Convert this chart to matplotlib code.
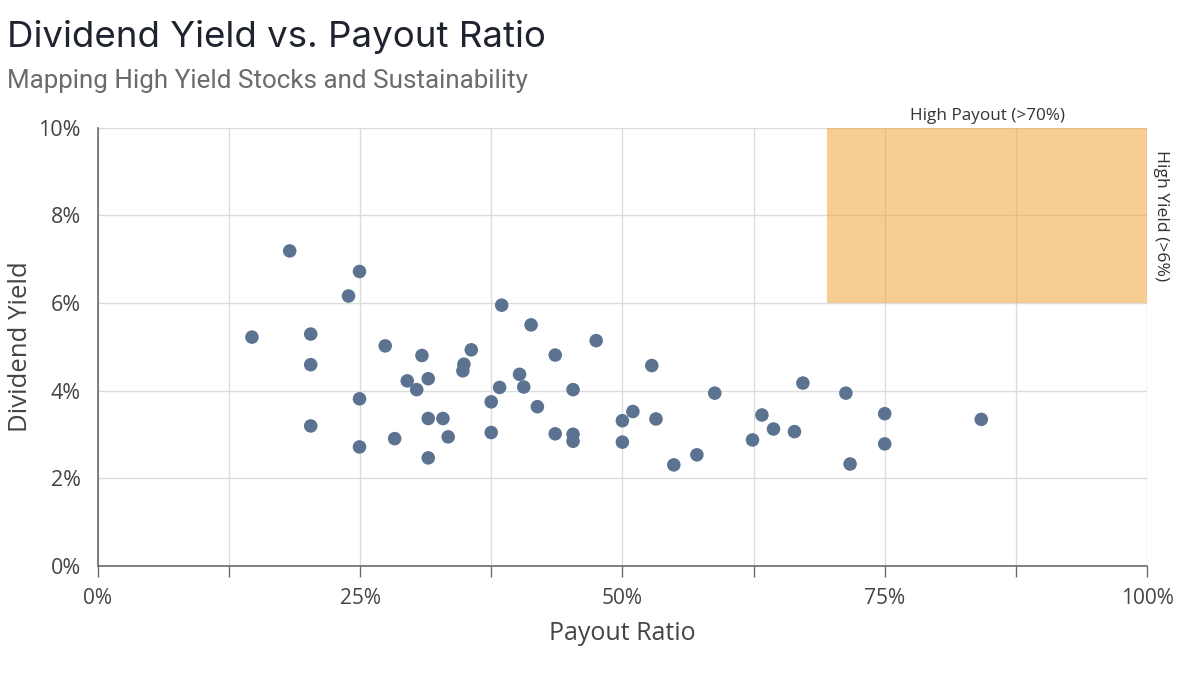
import numpy as np
import matplotlib.pyplot as plt
from matplotlib.ticker import FixedLocator, FuncFormatter
from matplotlib.patches import Rectangle

# Dados (payout %, dividend yield %)
payout = [14.7, 18.3, 20.3, 20.3, 20.3, 23.9, 24.95, 24.95, 24.95, 27.4,
          28.3, 29.5, 30.4, 30.9, 31.5, 31.5, 31.5, 32.9, 33.4, 34.9,
          34.8, 35.6, 37.5, 37.5, 38.5, 38.3, 40.2, 40.6, 41.3, 41.9,
          43.6, 43.6, 45.3, 45.3, 45.3, 47.5, 50.0, 50.0, 51.0, 52.8,
          53.2, 54.9, 57.1, 58.8, 62.4, 63.3, 64.4, 66.4, 67.2, 71.3,
          71.7, 75.0, 75.0, 84.2]
yield_pct = [5.22, 7.19, 5.29, 4.59, 3.19, 6.16, 6.72, 3.81, 2.71, 5.02,
             2.90, 4.22, 4.02, 4.80, 4.27, 3.36, 2.46, 3.36, 2.94, 4.60,
             4.45, 4.93, 3.74, 3.04, 5.95, 4.07, 4.37, 4.08, 5.50, 3.63,
             4.81, 3.01, 4.02, 3.00, 2.84, 5.14, 3.31, 2.82, 3.52, 4.57,
             3.35, 2.30, 2.53, 3.94, 2.87, 3.44, 3.12, 3.06, 4.17, 3.94,
             2.32, 3.47, 2.78, 3.34]

# Zona de destaque (alto payout / alto yield)
zone_x = (69.5, 100)
zone_y = (6, 10)

x_ticks = [0, 12.5, 25, 37.5, 50, 62.5, 75, 87.5, 100]
x_labels = [0, 25, 50, 75, 100]
y_ticks = [0, 2, 4, 6, 8, 10]

fig = plt.figure(figsize=(12, 6.75), dpi=100, facecolor='white')
ax = fig.add_axes([0.0814, 0.1622, 0.8745, 0.6482])

ax.set_xlim(0, 100)
ax.set_ylim(0, 10)

# Grade
ax.xaxis.set_major_locator(FixedLocator(x_ticks))
ax.yaxis.set_major_locator(FixedLocator(y_ticks))
ax.grid(True, color='#dcdcdc', linewidth=1.0, zorder=0)
ax.set_axisbelow(True)

ax.add_patch(Rectangle((zone_x[0], zone_y[0]), zone_x[1] - zone_x[0], zone_y[1] - zone_y[0],
                       facecolor='#f0a43a', alpha=0.55, edgecolor='none', zorder=1))

ax.scatter(payout, yield_pct, s=95, color='#5b7390', edgecolors='none', zorder=3)

# Eixos
for side in ['top', 'right']:
    ax.spines[side].set_visible(False)
for side in ['left', 'bottom']:
    ax.spines[side].set_color('#6b6b6b')
    ax.spines[side].set_linewidth(1.2)

ax.xaxis.set_major_formatter(FuncFormatter(lambda v, p: f"{v:.0f}%" if v in x_labels else ""))
ax.yaxis.set_major_formatter(FuncFormatter(lambda v, p: f"{v:.0f}%"))
ax.tick_params(axis='x', length=8, width=1.0, color='#6b6b6b', pad=8,
               labelsize=15, labelcolor='#444444')
ax.tick_params(axis='y', length=0, pad=12, labelsize=15.5, labelcolor='#444444')
for lbl in ax.get_xticklabels() + ax.get_yticklabels():
    lbl.set_family('Open Sans')

ax.set_xlabel("Payout Ratio", fontsize=18, color='#444444', family='Open Sans', labelpad=9)
ax.set_ylabel("Dividend Yield", fontsize=18.5, color='#444444', family='Open Sans', labelpad=4)

# Rótulos da zona
ax.text((zone_x[0] + zone_x[1]) / 2, zone_y[1] + 0.08, "High Payout (>70%)", ha='center',
        va='bottom', fontsize=12.3, color='#333333', family='Open Sans')
ax.text(zone_x[1] + 0.6, (zone_y[0] + zone_y[1]) / 2, "High Yield (>6%)", ha='left', va='center',
        rotation=-90, fontsize=12.6, color='#333333', family='Open Sans')

# Título e subtítulo
fig.text(0.006, 0.93, "Dividend Yield vs. Payout Ratio", fontsize=26.4, color='#1f2330',
         family='Inter', ha='left', va='baseline')
fig.text(0.006, 0.87, "Mapping High Yield Stocks and Sustainability", fontsize=18.7,
         color='#6b6b6b', family='Roboto', ha='left', va='baseline')

plt.savefig("out.png", dpi=100, facecolor='white')
